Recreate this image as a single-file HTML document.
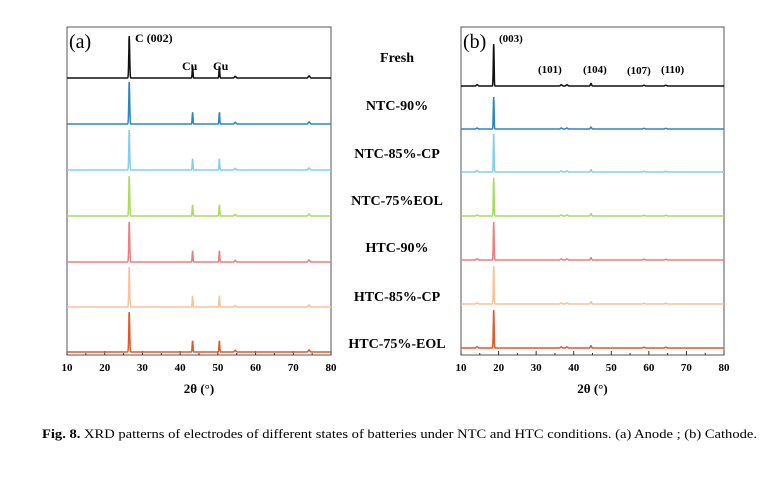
<!DOCTYPE html><html><head><meta charset="utf-8"><style>
body{margin:0;background:#fff;width:771px;height:476px;overflow:hidden}
svg text{font-family:"Liberation Serif",serif}
</style></head><body>
<svg id="s" width="771" height="476" xmlns="http://www.w3.org/2000/svg"></svg>
<script>
const s=document.getElementById('s');let h='';
const cols=['#111','#2b87c0','#86cdee','#a9dc5c','#ef7d7d','#f7c49a','#de5a28'];
function panel(x0,x1,y0,y1,bases,peaks,hs){
  const sx=(x1-x0)/70;
  h+=`<rect x="${x0}" y="${y0}" width="${x1-x0}" height="${y1-y0}" fill="none" stroke="#555" stroke-width="1"/>`;
  for(let v=10;v<=80;v+=5){const x=x0+(v-10)*sx;h+=`<line x1="${x}" y1="${y1}" x2="${x}" y2="${y1-(v%10?2:4)}" stroke="#333"/>`;
    if(v%10==0)h+=`<text x="${x}" y="${y1+16}" font-size="11" font-weight="bold" text-anchor="middle">${v}</text>`;}
  h+=`<text x="${(x0+x1)/2}" y="${y1+38}" font-size="13" font-weight="bold" text-anchor="middle">2θ (°)</text>`;
  bases.forEach((b,i)=>{let d='';const H=hs[i];
    for(let t=10;t<=80;t+=0.05){let y=0;peaks.forEach(p=>{y+=p[1]*H*Math.exp(-((t-p[0])**2)/(2*p[2]*p[2]))});
      d+=(d?'L':'M')+(x0+(t-10)*sx).toFixed(1)+','+(b-y).toFixed(1);}
    h+=`<path d="${d}" fill="none" stroke="${cols[i]}" stroke-width="1.5"/>`;});
}
panel(67,331,27,355,[78,124,170,216,262,307,352],
 [[26.5,1,0.12],[43.3,0.28,0.1],[50.4,0.28,0.1],[54.6,0.04,0.2],[74.2,0.05,0.2]],[42,42,40,40,40,40,40]);
panel(461,724,27,355,[86,129,172,216,260,304,348],
 [[18.7,1,0.1],[36.7,0.03,0.2],[38.2,0.03,0.2],[44.6,0.06,0.15],[58.7,0.02,0.2],[64.5,0.02,0.2],[14.3,0.03,0.2]],[42,32,38,38,38,38,38]);
h+=`<text x="69" y="48" font-size="20">(a)</text><text x="463" y="48" font-size="20">(b)</text>
<text x="135" y="42" font-size="12" font-weight="bold">C (002)</text>
<text x="182" y="70" font-size="12" font-weight="bold">Cu</text><text x="213" y="70" font-size="12" font-weight="bold">Cu</text>
<text x="499" y="42" font-size="11" font-weight="bold">(003)</text>
<text x="538" y="73" font-size="11" font-weight="bold">(101)</text><text x="583" y="73" font-size="11" font-weight="bold">(104)</text>
<text x="627" y="74" font-size="11" font-weight="bold">(107)</text><text x="661" y="73" font-size="11" font-weight="bold">(110)</text>`;
[['Fresh',62],['NTC-90%',110],['NTC-85%-CP',158],['NTC-75%EOL',205],['HTC-90%',252],['HTC-85%-CP',301],['HTC-75%-EOL',348]].forEach(l=>{
 h+=`<text x="397" y="${l[1]}" font-size="14" font-weight="bold" text-anchor="middle">${l[0]}</text>`;});
h+=`<text x="42" y="438" font-size="13" textLength="715" lengthAdjust="spacingAndGlyphs"><tspan font-weight="bold">Fig. 8.</tspan>  XRD patterns of electrodes of different states of batteries under NTC and HTC conditions. (a) Anode ; (b) Cathode.</text>`;
s.innerHTML=h;
</script></body></html>
